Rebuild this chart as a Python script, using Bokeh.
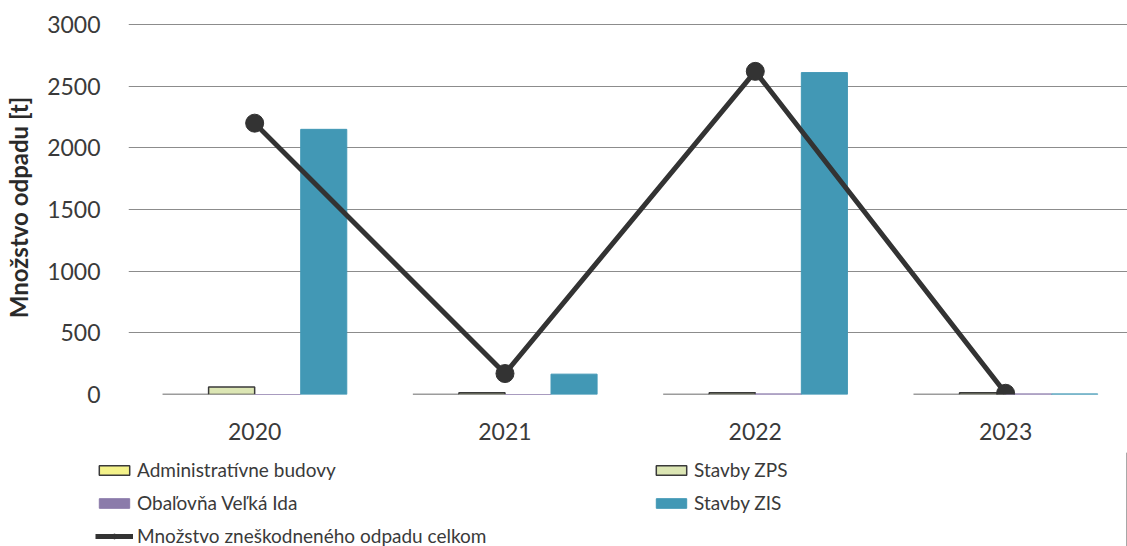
from bokeh.plotting import figure
from bokeh.models import (ColumnDataSource, Range1d, FixedTicker, Legend, LegendItem)
from bokeh.transform import dodge
from bokeh.embed import file_html
from bokeh.resources import INLINE

years = ["2020", "2021", "2022", "2023"]
admin = [0, 0, 0, 0]
zps = [60, 15, 15, 15]
obalovna = [0, 0, 5, 5]
zis = [2150, 165, 2610, 5]
total = [2200, 170, 2620, 10]

labels = ["Administratívne budovy", "Obaľovňa Veľká Ida",
          "Množstvo zneškodneného odpadu celkom", "Stavby ZPS", "Stavby ZIS"]

x = [i + 0.5 for i in range(len(years))]
src = ColumnDataSource(dict(x=x, admin=admin, zps=zps, obalovna=obalovna, zis=zis, total=total))

FONT = "Lato"
TXT = "#3a3a3a"
ADMIN = dict(fill_color="#F4F28A", line_color="#3a3a3a", line_width=1.5)
ZPS = dict(fill_color="#DCE6B4", line_color="#3a3a3a", line_width=1.5)
OBAL = dict(fill_color="#8B7BAA", line_color="#8B7BAA", line_width=1)
ZIS = dict(fill_color="#4298B5", line_color="#4298B5", line_width=1)
LINE = dict(line_color="#333333", line_width=5)

p = figure(width=1127, height=452, output_backend="svg", toolbar_location=None,
           x_range=Range1d(-0.004, 3.987), y_range=Range1d(0, 3032.4),
           min_border_left=128, min_border_right=0, min_border_top=20, min_border_bottom=58)
p.outline_line_color = None

w = 0.184
p.vbar(x=dodge("x", -1.5 * w, range=p.x_range), top="admin", width=w, source=src, **ADMIN)
p.vbar(x=dodge("x", -0.5 * w, range=p.x_range), top="zps", width=w, source=src, **ZPS)
p.vbar(x=dodge("x", 0.5 * w, range=p.x_range), top="obalovna", width=w, source=src, **OBAL)
p.vbar(x=dodge("x", 1.5 * w, range=p.x_range), top="zis", width=w, source=src, **ZIS)
p.line(x="x", y="total", source=src, **LINE)
p.scatter(x="x", y="total", source=src, size=18, fill_color="#333333", line_color="#333333")

p.xaxis.ticker = FixedTicker(ticks=x)
p.xaxis.major_label_overrides = {xi: y for xi, y in zip(x, years)}
p.yaxis.ticker = FixedTicker(ticks=[0, 500, 1000, 1500, 2000, 2500, 3000])
for ax in (p.xaxis, p.yaxis):
    ax.axis_line_color = None
    ax.major_tick_line_color = None
    ax.minor_tick_line_color = None
    ax.major_label_text_font = FONT
    ax.major_label_text_font_size = "23px"
    ax.major_label_text_color = TXT
p.yaxis.major_label_standoff = 22
p.xaxis.major_label_standoff = 22
p.yaxis.axis_label = "Množstvo odpadu [t]"
p.yaxis.axis_label_text_font = FONT
p.yaxis.axis_label_text_font_style = "bold"
p.yaxis.axis_label_text_font_size = "24px"
p.yaxis.axis_label_text_color = "#2a2a2a"
p.yaxis.axis_label_standoff = 11

p.xgrid.grid_line_color = None
p.ygrid.grid_line_color = "#8c8c8c"
p.ygrid.grid_line_width = 1.2

# legend strip: a second root drawn directly below the chart
q = figure(width=1127, height=94, output_backend="svg", toolbar_location=None,
           x_range=Range1d(0, 1), y_range=Range1d(0, 1),
           x_axis_location=None, y_axis_location=None, min_border=0)
q.outline_line_color = None
q.grid.grid_line_color = None
# legend-only renderers, their single point lies outside the visible range
off = ColumnDataSource(dict(x=[5], y=[5], top=[5]))
l_admin = q.vbar(x="x", top="top", width=0.1, source=off, **ADMIN)
l_obal = q.vbar(x="x", top="top", width=0.1, source=off, **OBAL)
l_line = q.line(x="x", y="y", source=off, **LINE)
l_pts = q.scatter(x="x", y="y", source=off, size=11, fill_color="#333333", line_color="#333333")
l_zps = q.vbar(x="x", top="top", width=0.1, source=off, **ZPS)
l_zis = q.vbar(x="x", top="top", width=0.1, source=off, **ZIS)

legend = Legend(items=[
    LegendItem(label=labels[0], renderers=[l_admin]),
    LegendItem(label=labels[1], renderers=[l_obal]),
    LegendItem(label=labels[2], renderers=[l_line, l_pts]),
    LegendItem(label=labels[3], renderers=[l_zps]),
    LegendItem(label=labels[4], renderers=[l_zis]),
], orientation="vertical", nrows=3, location=(95, -1))
legend.label_text_font = FONT
legend.label_text_font_size = "19px"
legend.label_text_color = TXT
legend.glyph_width = 38
legend.glyph_height = 12
legend.label_height = 22
legend.label_width = 505
legend.label_standoff = 4
legend.spacing = 10
legend.padding = 0
legend.margin = 0
legend.border_line_color = None
legend.background_fill_alpha = 0
q.add_layout(legend, "center")

open("out.html", "w").write(file_html([p, q], INLINE))
